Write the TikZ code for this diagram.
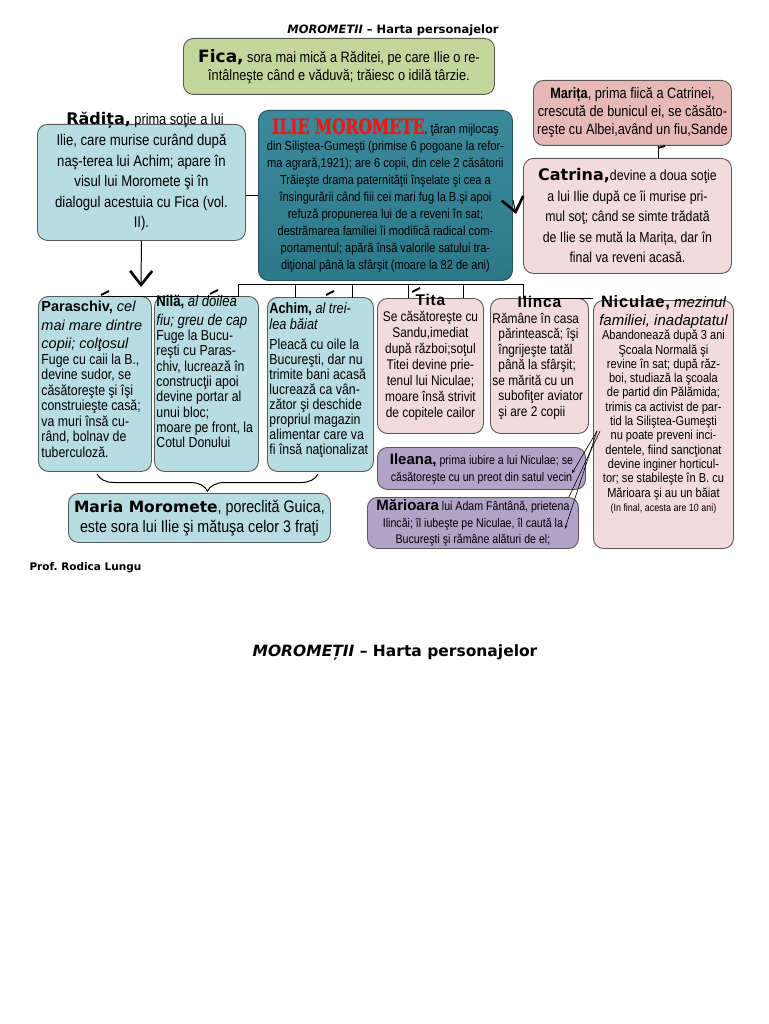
\documentclass[tikz,border=0pt]{standalone}
\usepackage{fontspec}
\setmainfont{Liberation Sans}[FakeStretch=0.85]
\newfontfamily\comicfont{DejaVu Sans}
\newfontfamily\widefont{Liberation Sans}
\newfontfamily\spacedfont{Liberation Sans}[LetterSpace=5]
\newfontfamily\redfont{DejaVu Serif}[UprightFont={* Bold}, FakeStretch=0.74, FakeBold=1.5]
\usetikzlibrary{arrows.meta,decorations.pathreplacing}

\definecolor{boxblue}{HTML}{B7DDE3}
\definecolor{boxpink}{HTML}{F2DCDB}
\definecolor{boxrose}{HTML}{E6B9B8}
\definecolor{boxgreen}{HTML}{C3D69B}
\definecolor{boxlilac}{HTML}{B3A2C7}
\definecolor{ilietop}{HTML}{3B8A9C}
\definecolor{iliemid}{HTML}{B2DCE3}
\definecolor{iliebot}{HTML}{2B7888}
\definecolor{iliered}{HTML}{E41B17}

\newcommand{\fsz}[2]{\fontsize{#1}{#2}\selectfont}
% fixed-height text block, text from the top
\newcommand{\topcard}[3]{\parbox[c][#1][t]{#2}{#3}}

\begin{document}
\begin{tikzpicture}[x=1pt, y=-1pt,
  card/.style={draw=black!65, line width=0.9pt, rounded corners=10pt,
    inner sep=0pt, anchor=north west, align=center},
  bluecard/.style={card, fill=boxblue},
  pinkcard/.style={card, fill=boxpink},
  rosecard/.style={card, fill=boxrose},
  greencard/.style={card, fill=boxgreen},
  lilaccard/.style={card, fill=boxlilac},
  iliecard/.style={card, draw=ilietop!60!black, top color=ilietop,
    middle color=iliemid, bottom color=iliebot},
  link/.style={draw, line width=1pt},
  bigv/.style={-{Straight Barb[length=14pt,width=22pt,line width=2.6pt]}},
  thinlink/.style={draw, line width=0.6pt, -{Stealth[length=4pt,width=3pt]}},
  tick/.style={draw, line width=1.8pt}
]
\useasboundingbox[fill=white] (0,0) rectangle (768,1024);

% titles
\node[font=\comicfont\bfseries\fsz{11.5}{14}] (title) at (393,30)
  {\textit{MOROMETII} – Harta personajelor};
\node[font=\comicfont\bfseries\fsz{15.5}{18}] (title2) at (395,652)
  {\textit{MOROMEȚII} – Harta personajelor};
\node[font=\comicfont\bfseries\fsz{10.5}{12}, anchor=west] (prof) at (26,568)
  {Prof.\ Rodica Lungu};

% top row
\node[greencard, minimum width=311pt, minimum height=56pt, font=\fsz{15}{18}] (fica) at (183,38)
  {{\comicfont\bfseries\fsz{17}{18}Fica,} sora mai mică a Răditei, pe care Ilie o re-\\
   întâlneşte când e văduvă; trăiesc o idilă târzie.};
\node[rosecard, minimum width=198pt, minimum height=65pt, font=\fsz{15}{18}] (marita) at (533,80)
  {\textbf{Marița}, prima fiică a Catrinei,\\
   crescută de bunicul ei, se căsăto-\\
   reşte cu Albei,având un fiu,Sande};
\node[bluecard, minimum width=208pt, minimum height=116pt, font=\fsz{15.5}{20.5}] (radita) at (37,124)
  {Ilie, care murise curând după\\
   naş-terea lui Achim; apare în\\
   visul lui Moromete şi în\\
   dialogul acestuia cu Fica (vol.\\
   II).};
\node[font=\fsz{15}{18}] (raditatitle) at (145,120)
  {{\comicfont\bfseries\fsz{16}{18}Rădița,} prima soţie a lui};
\node[iliecard, minimum width=254pt, minimum height=170pt, font=\fsz{13}{17}] (ilie) at (258,110)
  {{\redfont\color{iliered}\fsz{21}{17}ILIE MOROMETE}, ţăran mijlocaş\\
   din Siliştea-Gumeşti (primise 6 pogoane la refor-\\
   ma agrară,1921); are 6 copii, din cele 2 căsătorii\\
   Trăieşte drama paternităţii înşelate şi cea a\\
   însingurării când fiii cei mari fug la B.şi apoi\\
   refuză propunerea lui de a reveni în sat;\\
   destrămarea familiei îi modifică radical com-\\
   portamentul; apără însă valorile satului tra-\\
   diţional până la sfârşit (moare la 82 de ani)};
\node[pinkcard, minimum width=208pt, minimum height=115pt, font=\fsz{14.5}{20.5}] (catrina) at (523,158)
  {{\comicfont\bfseries\fsz{16}{20}Catrina,}devine a doua soţie\\
   a lui Ilie după ce îi murise pri-\\
   mul soţ; când se simte trădată\\
   de Ilie se mută la Marița, dar în\\
   final va reveni acasă.};

% children
\node[bluecard, inner xsep=3pt] (paraschiv) at (38,296)
  {\topcard{175pt}{107pt}{\raggedright\vspace*{5pt}
   {\widefont\fsz{14.5}{18.5}\textbf{Paraschiv,} \itshape cel\\ mai mare dintre\\ copii; colţosul\par}
   {\fsz{14.5}{15.5}Fuge cu caii la B.,\\ devine sudor, se\\ căsătoreşte şi îşi\\
    construieşte casă;\\ va muri însă cu-\\ rând, bolnav de\\ tuberculoză.\par}}};
\node[bluecard, inner xsep=2pt] (nila) at (154,296)
  {\topcard{175pt}{100pt}{\raggedright\vspace*{-1pt}
   {\fsz{15.5}{18.5}\textbf{Nilă,} \itshape al doilea\\ fiu; greu de cap\par}
   {\fsz{14.5}{15.3}Fuge la Bucu-\\ reşti cu Paras-\\ chiv, lucrează în\\ construcţii apoi\\
    devine portar al\\ unui bloc;\\ moare pe front, la\\ Cotul Donului\par}}};
\node[bluecard, inner xsep=2pt] (achim) at (267,297)
  {\topcard{174pt}{102pt}{\raggedright\vspace*{5pt}
   {\fsz{15}{16}\textbf{Achim,} \itshape al trei-\\ lea băiat\par}\vspace{5pt}
   {\fsz{14.5}{15}Pleacă cu oile la\\ Bucureşti, dar nu\\ trimite bani acasă\\ lucrează ca vân-\\
    zător şi deschide\\ propriul magazin\\ alimentar care va\\ fi însă naţionalizat\par}}};
\node[pinkcard, inner xsep=2pt] (tita) at (377,298)
  {\topcard{135pt}{102pt}{\centering\vspace*{-4pt}
   {\spacedfont\bfseries\fsz{15.5}{17}Tita\par}
   {\fsz{14}{16}Se căsătoreşte cu\\ Sandu,imediat\\ după război;soţul\\ Titei devine prie-\\
    tenul lui Niculae;\\ moare însă strivit\\ de copitele cailor\par}}};
\node[pinkcard, inner xsep=2pt] (ilinca) at (490,298)
  {\topcard{135pt}{94pt}{\raggedright\vspace*{-2pt}
   {\centering\spacedfont\bfseries\fsz{15.5}{17}Ilinca\par}
   {\fsz{14}{15.5}Rămâne în casa\\ \hspace*{6pt}părintească; îşi\\ \hspace*{6pt}îngrijeşte tatăl\\
    \hspace*{6pt}până la sfârşit;\\ se mărită cu un\\ \hspace*{6pt}subofiţer aviator\\
    \hspace*{6pt}şi are 2 copii\par}}};
\node[pinkcard, inner xsep=3pt] (niculae) at (593,300)
  {\topcard{248pt}{134pt}{\centering\vspace*{-5pt}
   {\widefont\fsz{15}{18}{\spacedfont\bfseries\fsz{16.5}{18}Niculae,} \itshape mezinul\\ familiei, inadaptatul\par}
   {\fsz{13}{14.3}Abandonează după 3 ani\\ Şcoala Normală şi\\ revine în sat; după răz-\\
    boi, studiază la şcoala\\ de partid din Pălămida;\\ trimis ca activist de par-\\
    tid la Siliştea-Gumeşti\\ nu poate preveni inci-\\ dentele, fiind sancţionat\\
    devine inginer horticul-\\ tor; se stabileşte în B. cu\\ Mărioara şi au un băiat\\
    {\fsz{10.5}{14.3}(In final, acesta are 10 ani)}\par}}};

% bottom row
\node[lilaccard, minimum width=208pt, minimum height=42pt, font=\fsz{12.5}{17}] (ileana) at (377,447)
  {{\widefont\bfseries\fsz{15}{17}Ileana,} prima iubire a lui Niculae; se\\
   căsătoreşte cu un preot din satul vecin};
\node[lilaccard, minimum width=211pt, minimum height=51pt, font=\fsz{12.5}{16.5}] (marioara) at (367,497)
  {{\widefont\bfseries\fsz{15}{16.5}Mărioara} lui Adam Fântână, prietena\\
   Ilincăi; îl iubeşte pe Niculae, îl caută la\\
   Bucureşti şi rămâne alături de el;};
\node[bluecard, minimum width=262pt, minimum height=49pt, font=\fsz{16.8}{20}] (maria) at (68,493)
  {{\comicfont\bfseries\fsz{15.5}{20}Maria Moromete}, poreclită Guica,\\
   este sora lui Ilie şi mătuşa celor 3 fraţi};

% connectors
\coordinate (vtip) at (141,287);
\coordinate (ctip) at (516,214);
\coordinate (jleft) at (238,284);
\coordinate (jright) at (523,284);
\coordinate (nfan) at (597,431);
\draw[link] (radita.east |- ilie.west) -- (ilie.west);
\draw[link, bigv] (radita.south) -- (vtip);
\draw[link, bigv] (ilie.east |- 0,200) -- (ctip);
\draw[link] (marita.south -| 658,0) -- (catrina.north -| 658,0);
\draw[tick] (658,148) -- (665,146);
\draw[link] (paraschiv.north -| 102,0) -- (jleft |- paraschiv.north) -- (jleft) -- (jright)
  -- (jright |- tita.north) -- (niculae.north west |- tita.north);
\foreach \x in {295,352,408,463}
  \draw[link] (\x,0 |- jleft) -- (\x,0 |- tita.north);
\foreach \x/\y in {101/295, 210/294, 326/295, 412/292}
  \draw[tick] (\x,\y) -- ++(8,-4);
\draw[thinlink] (nfan) -- ([xshift=-14pt, yshift=-5pt]ileana.east);
\draw[thinlink] (nfan) -- ([xshift=-14pt, yshift=-6pt]marioara.east);
\draw[line width=0.6pt] ([xshift=3pt]nfan) -- ([xshift=-10pt]marioara.north east);
\draw[link, decorate, decoration={brace, amplitude=17pt}] (318,474) -- (97,474);
\end{tikzpicture}
\end{document}
